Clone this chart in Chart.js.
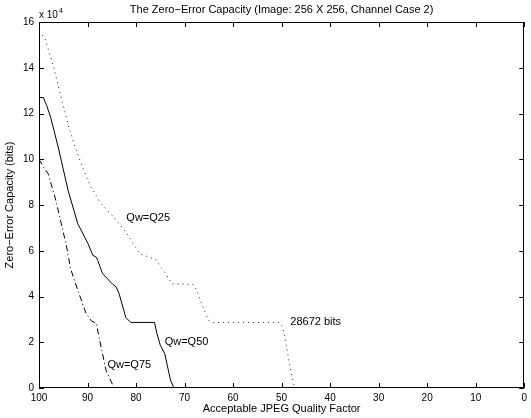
<!DOCTYPE html>
<html>
<head>
<meta charset="utf-8">
<script src="https://cdn.jsdelivr.net/npm/chart.js@4.4.1/dist/chart.umd.min.js"></script>
<style>
html,body{margin:0;padding:0;background:#fff;}
#wrap{width:531px;height:418px;}
</style>
</head>
<body>
<div id="wrap"><canvas id="c" width="531" height="418"></canvas></div>
<script>
// Acceptable JPEG quality factor (x) and zero-error capacity in bits (y)
const q25Quality = [100, 98.8, 97.8, 96.7, 95.7, 94.7, 93.7, 92.5, 91.3, 89.6, 87.2, 84.5, 82.4, 81.1, 80.1, 79.2, 77.3, 75.9, 74.8, 73.9, 72.6, 68.2, 67.5, 66.5, 65.1, 64.1, 50.4, 49.8, 49.1, 48.4, 47.4, 47.3];
const q25Bits    = [156000, 153000, 146000, 138000, 129000, 121000, 113000, 105000, 98000, 89000, 80500, 74500, 69000, 65000, 61500, 58700, 57200, 56100, 52600, 50000, 45500, 45300, 42700, 36900, 29600, 28672, 28672, 26700, 19500, 10800, 600, 0];

const q50Quality = [100, 99.1, 98.4, 97.6, 96.9, 95.9, 95.4, 94.0, 92.0, 89.9, 88.9, 88.2, 87.9, 86.9, 84.8, 84.1, 83.5, 82.1, 81.1, 76.2, 75.7, 75.0, 74.1, 72.9, 72.2];
const q50Bits    = [127000, 127000, 123400, 118300, 112500, 104000, 99400, 86300, 71800, 63100, 58000, 57200, 55800, 50000, 45300, 44200, 41300, 30800, 28672, 28672, 23800, 18700, 15100, 3500, 0];

const q75Quality = [100, 99.2, 98.1, 96.7, 95.4, 94.3, 93.5, 92.0, 90.3, 89.2, 88.2, 87.2, 86.2, 84.8, 84.5];
const q75Bits    = [100000, 97000, 93600, 83400, 71800, 61600, 52200, 42700, 32600, 29300, 28200, 18000, 7800, 1300, 0];

const xTicks = [100, 90, 80, 70, 60, 50, 40, 30, 20, 10, 0];
const yTicks = [0, 2, 4, 6, 8, 10, 12, 14, 16]; // x 10^4 bits

const labels = [
  {text: 'Qw=Q25', q: 82.0, bits: 74500},
  {text: 'Qw=Q50', q: 74.1, bits: 20000},
  {text: 'Qw=Q75', q: 85.9, bits: 10000},
  {text: '28672 bits', q: 48.2, bits: 28672}
];

const FONT = '"Liberation Sans", Arial, Helvetica, sans-serif';
const toPts = (xs, ys) => xs.map((x, i) => ({x: x, y: ys[i]}));

const overlay = {
  id: 'overlay',
  afterDraw(chart) {
    const {ctx, chartArea: a, scales: {x, y}} = chart;
    ctx.save();
    ctx.strokeStyle = '#000';
    ctx.lineWidth = 1;
    // box
    ctx.strokeRect(Math.round(a.left) + 0.5, Math.round(a.top) + 0.5, Math.round(a.right - a.left) - 1, Math.round(a.bottom - a.top) - 1);
    // inward ticks
    const tl = 5;
    ctx.beginPath();
    xTicks.forEach(v => {
      const px = Math.round(x.getPixelForValue(v)) + 0.5;
      ctx.moveTo(px, a.bottom); ctx.lineTo(px, a.bottom - tl);
      ctx.moveTo(px, a.top); ctx.lineTo(px, a.top + tl);
    });
    yTicks.forEach(v => {
      const py = Math.round(y.getPixelForValue(v * 10000)) + 0.5;
      ctx.moveTo(a.left, py); ctx.lineTo(a.left + tl, py);
      ctx.moveTo(a.right, py); ctx.lineTo(a.right - tl, py);
    });
    ctx.stroke();
    // title
    ctx.fillStyle = '#000';
    ctx.font = '11px ' + FONT;
    ctx.textAlign = 'center';
    ctx.textBaseline = 'middle';
    ctx.fillText('The Zero\u2212Error Capacity (Image: 256 X 256, Channel Case 2)', (a.left + a.right) / 2, 10);
    // exponent
    ctx.textAlign = 'left';
    ctx.font = '10px ' + FONT;
    ctx.fillText('x 10', a.left, 15);
    ctx.font = '7px ' + FONT;
    ctx.fillText('4', a.left + 20, 11);
    // annotations
    ctx.font = '11px ' + FONT;
    labels.forEach(l => {
      ctx.fillText(l.text, x.getPixelForValue(l.q), y.getPixelForValue(l.bits));
    });
    ctx.restore();
  }
};

new Chart(document.getElementById('c'), {
  type: 'line',
  data: {
    datasets: [
      {label: 'Qw=Q25', data: toPts(q25Quality, q25Bits), borderColor: '#222', borderWidth: 1, borderDash: [1, 4], pointRadius: 0, fill: false, tension: 0},
      {label: 'Qw=Q50', data: toPts(q50Quality, q50Bits), borderColor: '#000', borderWidth: 1, pointRadius: 0, fill: false, tension: 0},
      {label: 'Qw=Q75', data: toPts(q75Quality, q75Bits), borderColor: '#000', borderWidth: 1, borderDash: [6, 3, 1, 3], pointRadius: 0, fill: false, tension: 0}
    ]
  },
  options: {
    responsive: false,
    animation: false,
    events: [],
    layout: {padding: {top: 22, right: 2, left: 0, bottom: 0}, autoPadding: false},
    plugins: {legend: {display: false}, tooltip: {enabled: false}, title: {display: false}},
    scales: {
      x: {
        type: 'linear', min: 0, max: 100, reverse: true,
        grid: {display: false, drawTicks: false},
        border: {display: false},
        ticks: {stepSize: 10, padding: 4, color: '#000', font: {family: FONT, size: 10}, maxRotation: 0, autoSkip: false},
        title: {display: true, text: 'Acceptable JPEG Quality Factor', color: '#000', font: {family: FONT, size: 11}, padding: {top: 0, bottom: 2}},
        afterFit(s) { s.height = 30; }
      },
      y: {
        type: 'linear', min: 0, max: 160000,
        grid: {display: false, drawTicks: false},
        border: {display: false},
        ticks: {stepSize: 20000, padding: 5, color: '#000', font: {family: FONT, size: 10}, callback: v => String(v / 10000)},
        title: {display: true, text: 'Zero\u2212Error Capacity (bits)', color: '#000', font: {family: FONT, size: 11}, padding: {top: 3, bottom: 0}},
        afterFit(s) { s.width = 39; }
      }
    }
  },
  plugins: [overlay]
});
</script>
</body>
</html>
